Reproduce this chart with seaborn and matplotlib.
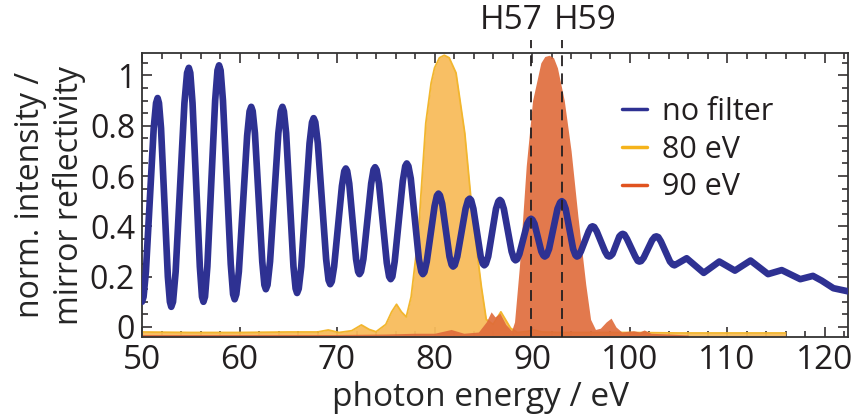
import numpy as np
import pandas as pd
import matplotlib
matplotlib.use("Agg")
import matplotlib.pyplot as plt
import seaborn as sns
from matplotlib.lines import Line2D
from matplotlib.ticker import MultipleLocator

# unfiltered harmonic spectrum (blue line): maxima / minima
energy_nofilter = [50.0, 51.6, 53.0, 54.8, 56.3, 57.9, 59.5, 61.2, 62.7, 64.4, 65.9, 67.6,
                   69.3, 70.9, 72.3, 73.9, 75.5, 77.15, 78.8, 80.4, 81.9, 83.6, 85.1, 86.7,
                   88.3, 89.9, 91.3, 93.05, 94.6, 96.2, 97.9, 99.3, 101.0, 102.75, 104.6,
                   105.85, 107.6, 109.2, 110.8, 112.4, 114.2, 115.6, 117.5, 118.8, 119.7,
                   120.9, 122.6]
signal_nofilter = [0.10, 0.91, 0.08, 1.03, 0.10, 1.04, 0.11, 0.875, 0.15, 0.875, 0.135, 0.83,
                   0.17, 0.63, 0.21, 0.635, 0.19, 0.65, 0.21, 0.53, 0.24, 0.51, 0.245, 0.505,
                   0.265, 0.43, 0.28, 0.50, 0.28, 0.40, 0.28, 0.37, 0.26, 0.36, 0.245,
                   0.273, 0.215, 0.26, 0.224, 0.264, 0.21, 0.226, 0.19, 0.203, 0.184,
                   0.154, 0.14]

# extra points along the flanks of the same curve
energy_flank = [50.16, 50.4, 51.2, 51.44, 51.74, 51.95, 52.65, 52.86, 53.18, 53.45, 54.35, 54.62,
                54.95, 55.18, 55.93, 56.15, 56.46, 56.7, 57.5, 57.74, 58.06, 58.3, 59.1, 59.34,
                59.67, 59.93, 60.78, 61.03, 61.35, 61.58, 62.33, 62.55, 62.87, 63.13, 63.98, 64.23,
                64.55, 64.78, 65.53, 65.75, 66.07, 66.33, 67.18, 67.43, 67.77, 68.03, 68.88, 69.13,
                69.46, 69.7, 70.5, 70.74, 71.04, 71.25, 71.95, 72.16, 72.46, 72.7, 73.5, 73.74,
                74.06, 74.3, 75.1, 75.34, 75.67, 75.91, 76.74, 76.99, 77.32, 77.56, 78.39, 78.64,
                78.96, 79.2, 80.0, 80.24, 80.55, 80.78, 81.53, 81.75, 82.07, 82.33, 83.18, 83.43,
                83.75, 83.98, 84.73, 84.95, 85.26, 85.5, 86.3, 86.54, 86.86, 87.1, 87.9, 88.14,
                88.46, 88.7, 89.5, 89.74, 90.04, 90.25, 90.95, 91.16, 91.48, 91.74, 92.61, 92.88,
                93.21, 93.44, 94.21, 94.45, 94.76, 95.0, 95.8, 96.04, 96.37, 96.63, 97.48, 97.73,
                98.04, 98.25, 98.95, 99.16, 99.47, 99.73, 100.58, 100.83, 101.18, 101.44, 102.31,
                102.58, 102.94, 103.21, 104.14, 104.42]
signal_flank = [0.12, 0.22, 0.79, 0.89, 0.89, 0.79, 0.20, 0.10, 0.10, 0.22, 0.89, 1.01,
                1.01, 0.89, 0.24, 0.12, 0.12, 0.24, 0.90, 1.02, 1.02, 0.90, 0.25, 0.13,
                0.13, 0.22, 0.76, 0.857, 0.858, 0.77, 0.26, 0.167, 0.167, 0.26, 0.77, 0.858,
                0.857, 0.77, 0.24, 0.153, 0.152, 0.24, 0.73, 0.813, 0.814, 0.73, 0.27, 0.186,
                0.181, 0.24, 0.56, 0.619, 0.62, 0.57, 0.27, 0.22, 0.22, 0.27, 0.57, 0.625,
                0.624, 0.57, 0.255, 0.20, 0.20, 0.26, 0.58, 0.639, 0.639, 0.59, 0.27, 0.22,
                0.218, 0.26, 0.48, 0.522, 0.523, 0.49, 0.28, 0.247, 0.246, 0.28, 0.47, 0.504,
                0.504, 0.47, 0.28, 0.251, 0.251, 0.28, 0.47, 0.499, 0.499, 0.47, 0.30, 0.271,
                0.269, 0.29, 0.41, 0.426, 0.426, 0.41, 0.30, 0.284, 0.285, 0.31, 0.47, 0.495,
                0.495, 0.47, 0.31, 0.285, 0.283, 0.30, 0.38, 0.397, 0.397, 0.38, 0.30, 0.283,
                0.282, 0.29, 0.36, 0.368, 0.367, 0.35, 0.28, 0.263, 0.262, 0.275, 0.345,
                0.358, 0.357, 0.34, 0.26, 0.248]

# transmitted spectrum, 80 eV filter
energy_80 = [50, 55, 60, 65, 68, 69.1, 70.2, 71.5, 72.5, 73.3, 74.0, 75.0, 75.6, 76.1, 76.6,
             77.1, 77.6, 78.3, 79.1, 79.65, 80.0, 80.5, 81.0, 81.5, 82.2, 83.1, 83.9, 84.8,
             85.3, 86.0, 86.8, 87.8, 88.5, 89.5, 90.2, 91.0, 93, 100, 105, 110, 116]
signal_80 = [-0.02, -0.022, -0.022, -0.02, -0.02, -0.012, -0.022, -0.015, 0.008, -0.01, -0.019,
             0.01, 0.06, 0.09, 0.06, 0.04, 0.12, 0.35, 0.81, 0.97, 1.03, 1.07, 1.08, 1.07, 1.01,
             0.77, 0.44, 0.16, 0.03, 0.01, 0.06, -0.005, -0.022, -0.018, -0.012, -0.02, -0.022,
             -0.022, -0.024, -0.024, -0.024]

# transmitted spectrum, 90 eV filter
energy_90 = [50, 60, 70, 75, 78, 80, 81.7, 83, 84.5, 85.3, 85.8, 86.2, 86.7, 87.3, 87.9, 88.2,
             88.7, 89.4, 90.05, 90.9, 91.3, 91.75, 92.2, 92.6, 93.3, 94.0, 94.7, 95.5, 96.0,
             96.5, 97.0, 97.6, 98.1, 98.6, 99.2, 100.4, 101.0, 101.5, 102.2, 104, 106]
signal_90 = [-0.03, -0.03, -0.03, -0.028, -0.025, -0.025, -0.01, -0.025, -0.02, 0.02, 0.06,
             0.04, 0.055, 0.01, -0.015, 0.02, 0.24, 0.64, 0.90, 1.05, 1.075, 1.08, 1.07, 1.03,
             0.90, 0.70, 0.44, 0.17, 0.03, -0.01, -0.005, 0.02, 0.035, 0.0, -0.02, -0.015,
             -0.02, -0.012, -0.025, -0.028, -0.032]

harmonics = {"H57": 89.9, "H59": 93.05}
harmonic_label_x = {"H57": 87.9, "H59": 95.4}

blue = "#2E3192"
yellow_line = "#F5B31B"
yellow_fill = "#F8BC5C"
red_line = "#E0531F"
red_fill = "#DF6A3A"

sns.set_theme(style="ticks")
plt.rcParams["font.family"] = ["Open Sans", "DejaVu Sans"]
plt.rcParams["text.color"] = "#231F20"

fig = plt.figure(figsize=(8.56, 4.17), dpi=100)
ax = fig.add_axes([0.1659, 0.1918, 0.8248, 0.6811])

ybot = -0.04
ax.fill_between(energy_80, signal_80, ybot, color=yellow_fill, alpha=0.95, lw=0, zorder=1)
ax.plot(energy_80, signal_80, color="#F2B62E", lw=1.3, zorder=1.1)
ax.fill_between(energy_90, signal_90, ybot, color=red_fill, alpha=0.9, lw=0, zorder=2)

df = pd.DataFrame({"energy": energy_nofilter + energy_flank,
                   "signal": signal_nofilter + signal_flank})
sns.lineplot(data=df, x="energy", y="signal", color=blue, lw=4.8, ax=ax, zorder=3,
             estimator=None, sort=True, solid_joinstyle="round", solid_capstyle="round")

for name, xpos in harmonics.items():
    ax.axvline(xpos, ymin=0, ymax=1.046, color="#231F20", lw=1.3, ls=(0, (6, 4)),
               clip_on=False, zorder=4)
    ax.text(harmonic_label_x[name], 1.116, name, transform=ax.get_xaxis_transform(),
            ha="center", va="center", fontsize=24)

ax.set_xlim(50, 122.4)
ax.set_ylim(ybot, 1.089)
ax.xaxis.set_major_locator(MultipleLocator(10))
ax.xaxis.set_minor_locator(MultipleLocator(2))
ax.set_yticks([0, 0.2, 0.4, 0.6, 0.8, 1.0])
ax.set_yticklabels(["0", "0.2", "0.4", "0.6", "0.8", "1"])
ax.yaxis.set_minor_locator(MultipleLocator(0.05))
ax.tick_params(which="both", direction="in", top=True, right=True, width=1.1,
               colors="#231F20", labelsize=24)
ax.tick_params(axis="y", labelsize=23)
ax.tick_params(which="major", length=7, pad=5)
ax.tick_params(which="minor", length=4)
for s in ax.spines.values():
    s.set_linewidth(1.3)
    s.set_color("#333333")

ax.set_xlabel("photon energy / eV", fontsize=24)
ax.xaxis.set_label_coords(0.479, -0.155)
ax.set_ylabel("norm. intensity /\nmirror reflectivity", fontsize=23, linespacing=1.2)
ax.yaxis.set_label_coords(-0.08, 0.5)

handles = [Line2D([], [], color=blue, lw=2.5),
           Line2D([], [], color=yellow_line, lw=2.5),
           Line2D([], [], color=red_line, lw=2.5)]
ax.legend(handles, ["no filter", "80 eV", "90 eV"], loc="upper left",
          bbox_to_anchor=(0.68, 0.845), frameon=False, fontsize=22, handlelength=0.8,
          handletextpad=0.5, labelspacing=0.25, borderpad=0, borderaxespad=0)

fig.savefig("out.png", dpi=100)
